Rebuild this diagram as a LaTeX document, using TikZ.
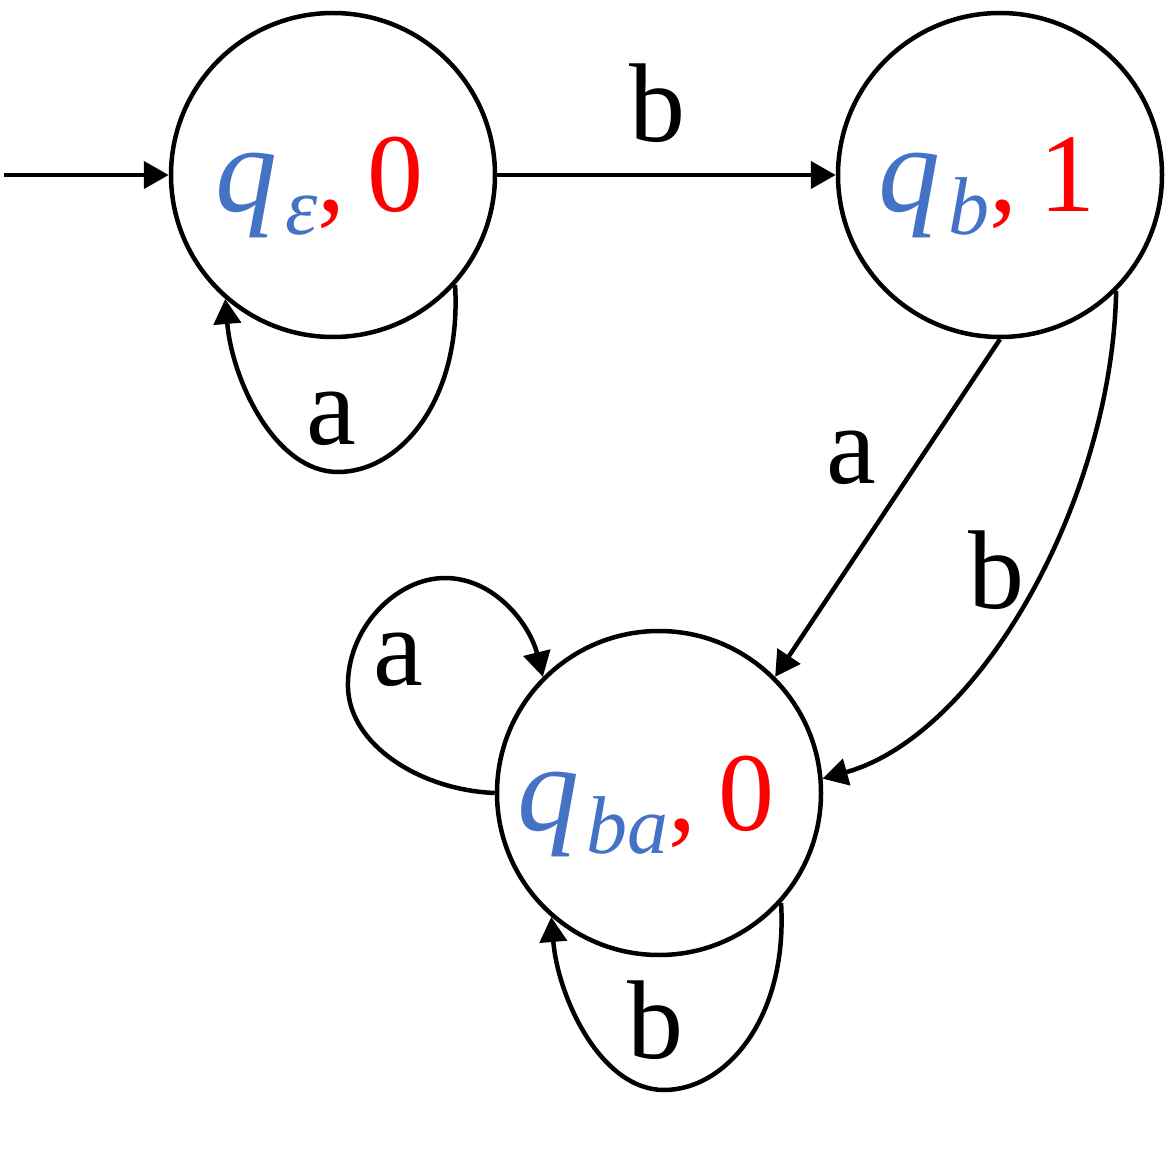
\documentclass[tikz,border=0pt]{standalone}
\usepackage{fontspec}
\setmainfont{Liberation Serif}
\usetikzlibrary{arrows.meta}
\definecolor{qblue}{HTML}{4472C4}
\definecolor{qred}{HTML}{FF0000}
\newcommand{\stlab}[2]{{\color{qblue}\itshape\fontsize{124}{150}\selectfont q\hspace{0.06em}\raisebox{-23pt}{\fontsize{82}{90}\selectfont #1}}{\color{qred}\fontsize{112}{130}\selectfont,\hspace{0.2em}#2}\kern26pt\relax}
\tikzset{
  state/.style={draw, circle, line width=4.5pt, minimum size=324pt, inner sep=0pt, text height=74pt, text depth=0pt},
  edge/.style={line width=4.5pt, -{Triangle[length=25pt,width=27pt]}},
  lbl/.style={inner sep=0pt, font=\fontsize{112}{130}\selectfont}
}
\begin{document}
\begin{tikzpicture}[x=1pt,y=-1pt]
\useasboundingbox (0,0) rectangle (1168,1150);
\node[state] (qe) at (333,175) {\stlab{ε}{0}};
\node[state] (qb) at (1000,175) {\stlab{b}{1}};
\node[state] (qba) at (659,793) {\stlab{ba}{0}};
\coordinate (start) at (4,175);
\draw[edge] (start) -- (qe);
\draw[edge] (qe) -- (qb);
\draw[edge] (qe.-42) .. controls (462,400) and (400,472) .. (338,472) .. controls (275,472) and (232,380) .. (qe.-131);
\draw[edge] (qb.-90) -- (qba.45);
\draw[edge] (qb.-45) .. controls (1112,500) and (980,735) .. (qba.5);
\draw[edge] (qba.180) .. controls (420,790) and (350,745) .. (348,688) .. controls (346,630) and (395,578) .. (445,578) .. controls (495,578) and (530,625) .. (qba.135);
\draw[edge] (qba.-42) .. controls (788,1018) and (726,1090) .. (664,1090) .. controls (601,1090) and (558,998) .. (qba.-131);
\node[lbl] (l1) at (657,103) {b};
\node[lbl] (l2) at (331,419) {a};
\node[lbl] (l3) at (851,458) {a};
\node[lbl] (l4) at (996,570) {b};
\node[lbl] (l5) at (398,660) {a};
\node[lbl] (l6) at (655,1020) {b};
\end{tikzpicture}
\end{document}
